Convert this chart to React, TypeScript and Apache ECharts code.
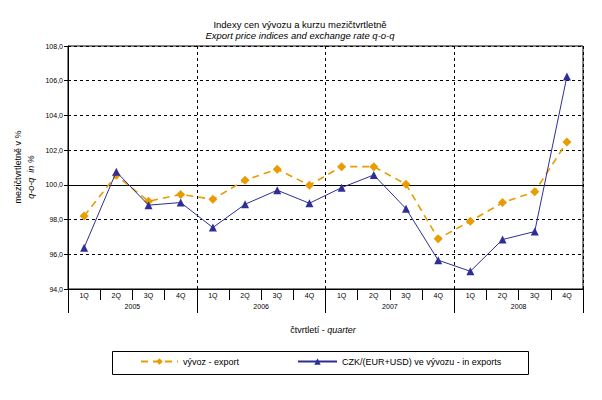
import React, { useEffect, useRef } from "react";
import * as echarts from "echarts";

const quarters = ["1Q","2Q","3Q","4Q","1Q","2Q","3Q","4Q","1Q","2Q","3Q","4Q","1Q","2Q","3Q","4Q"];
const years = ["2005", "2006", "2007", "2008"];
const exportIdx = [98.2, 100.55, 99.05, 99.45, 99.17, 100.27, 100.9, 99.98, 101.05, 101.05, 100.03, 96.9, 97.9, 98.98, 99.6, 102.47];
const czkIdx = [96.38, 100.75, 98.83, 98.98, 97.54, 98.88, 99.69, 98.94, 99.84, 100.57, 98.63, 95.66, 95.02, 96.85, 97.31, 106.24];
const seriesNames = ["vývoz - export", "CZK/(EUR+USD) ve vývozu - in exports"];

const ORANGE = "#E99C00";
const BLUE = "#2E2E96";
const FONT = "Liberation Sans, Arial, sans-serif";

export default function App() {
  const ref = useRef<HTMLDivElement>(null);
  useEffect(() => {
    document.body.style.margin = "0";
    const chart = echarts.init(ref.current!, null, { renderer: "svg" });
    chart.setOption({
      animation: false,
      backgroundColor: "#fff",
      textStyle: { fontFamily: FONT },
      grid: { left: 68, right: 19, top: 46, bottom: 111, show: true, borderColor: "#000", borderWidth: 1, backgroundColor: "transparent" },
      xAxis: [
        {
          type: "category", data: quarters, boundaryGap: true, position: "bottom",
          axisLine: { lineStyle: { color: "#000", width: 1 } },
          axisTick: { show: true, interval: 0, length: 11, lineStyle: { color: "#000" } },
          axisLabel: { interval: 0, margin: 3, fontSize: 7, color: "#000", fontFamily: FONT },
          splitLine: { show: false },
        },
        {
          type: "category", data: years, boundaryGap: true, position: "bottom",
          axisLine: { show: false },
          axisTick: { show: true, interval: 0, length: 24, lineStyle: { color: "#000" } },
          axisLabel: { interval: 0, margin: 14, fontSize: 7, color: "#000", fontFamily: FONT },
          splitLine: { show: true, interval: 0, lineStyle: { color: "#000", type: [3, 3], width: 1 } },
        },
      ],
      yAxis: {
        type: "value", min: 94, max: 108, interval: 2,
        axisLine: { show: true, lineStyle: { color: "#000" } },
        axisTick: { show: true, length: 4, inside: false, lineStyle: { color: "#000" } },
        axisLabel: { fontSize: 7, color: "#000", margin: 5, fontFamily: FONT,
          formatter: (v: number) => v.toFixed(1).replace(".", ",") },
        splitLine: { show: true, lineStyle: { color: "#000", type: [3, 3], width: 1 } },
      },
      legend: [
        { data: [seriesNames[0]], left: 140, top: 357, padding: 0, itemWidth: 37, itemHeight: 8, itemGap: 5,
          textStyle: { fontSize: 9, color: "#000", fontFamily: FONT } },
        { data: [seriesNames[1]], left: 297, top: 357, padding: 0, itemWidth: 39, itemHeight: 8, itemGap: 3,
          textStyle: { fontSize: 9, color: "#000", fontFamily: FONT } },
      ],
      series: [
        {
          name: seriesNames[0], type: "line", data: exportIdx, xAxisIndex: 0,
          symbol: "diamond", symbolSize: 9, itemStyle: { color: ORANGE },
          lineStyle: { color: ORANGE, width: 1.6, type: [7, 5] }, z: 3,
          markLine: { silent: true, symbol: "none", label: { show: false },
            lineStyle: { color: "#000", type: "solid", width: 1.2 }, data: [{ yAxis: 100 }], z: 1 },
        },
        {
          name: seriesNames[1], type: "line", data: czkIdx, xAxisIndex: 0,
          symbol: "triangle", symbolSize: 8, itemStyle: { color: BLUE },
          lineStyle: { color: BLUE, width: 1 }, z: 4,
        },
      ],
      graphic: [
        { type: "text", x: 300, y: 24, style: {
            text: "Indexy cen vývozu a kurzu mezičtvrtletně", align: "center", verticalAlign: "middle",
            fontSize: 9.5, fontFamily: FONT, fill: "#000" } },
        { type: "text", x: 300, y: 35, style: {
            text: "Export price indices and exchange rate q-o-q", align: "center", verticalAlign: "middle",
            fontSize: 9.5, fontStyle: "italic", fontFamily: FONT, fill: "#000" } },
        { type: "rect", shape: { x: 112.5, y: 351.5, width: 416, height: 23 }, style: { fill: "none", stroke: "#000", lineWidth: 1 } },
        { type: "text", x: 323, y: 330, style: {
            text: "{n|čtvrtletí - }{i|quarter}", align: "center", verticalAlign: "middle",
            rich: { n: { fontSize: 9, fontFamily: FONT, fill: "#000" }, i: { fontSize: 9, fontStyle: "italic", fontFamily: FONT, fill: "#000" } } } },
        { type: "text", x: 18, y: 167, rotation: Math.PI / 2, style: {
            text: "mezičtvrtletně v %", align: "center", verticalAlign: "middle",
            fontSize: 9, fontFamily: FONT, fill: "#000" } },
        { type: "text", x: 31, y: 177, rotation: Math.PI / 2, style: {
            text: "q-o-q  in %", align: "center", verticalAlign: "middle",
            fontSize: 9, fontStyle: "italic", fontFamily: FONT, fill: "#000" } },
      ],
    });
    return () => chart.dispose();
  }, []);
  return <div ref={ref} style={{ width: 602, height: 400 }} />;
}
